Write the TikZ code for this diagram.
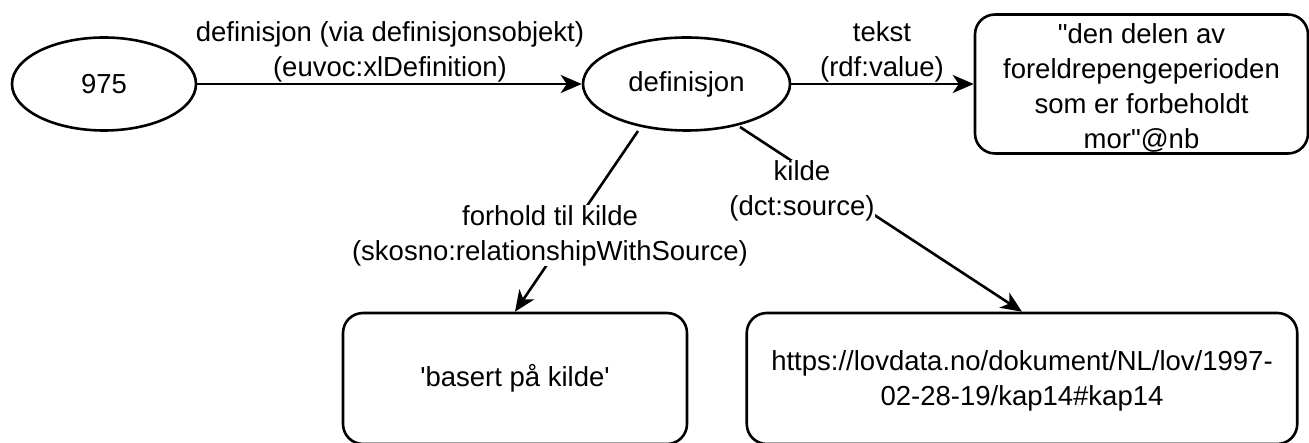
\documentclass[tikz,border=0pt]{standalone}
\usepackage{fontspec}
\newfontfamily\lsans{Liberation Sans}
\usetikzlibrary{shapes.geometric,arrows.meta,calc}
\begin{document}
\begin{tikzpicture}[x=1pt,y=-1pt,
  every node/.style={font=\lsans\fontsize{27.5}{35}\selectfont},
  ell/.style={draw, ellipse, line width=2.6pt, inner sep=0pt, minimum height=93pt},
  box/.style={draw, rectangle, rounded corners=20pt, line width=2.6pt, align=center, inner sep=0pt},
  arr/.style={line width=2.6pt, -{Stealth[length=21pt,width=18pt,inset=6pt]}},
  lab/.style={align=center, inner sep=0pt},
  labbg/.style={lab, fill=white}]
\useasboundingbox (0,0) rectangle (1309,443);
\fill[white] (0,0) rectangle (1309,443);
\node[ell, minimum width=184pt] (n975) at (104,84) {975};
\node[ell, minimum width=207pt] (def) at (686.5,84) {definisjon};
\node[box, minimum width=333pt, minimum height=139pt, text height=133pt] (txt) at (1141.5,84) {"den delen av\\foreldrepengeperioden\\som er forbeholdt\\mor"@nb};
\node[box, minimum width=344pt, minimum height=131pt] (src) at (515,378.5) {'basert på kilde'};
\node[box, minimum width=550.5pt, minimum height=131pt, text height=59pt] (url) at (1022,378.5) {https://lovdata.no/dokument/NL/lov/1997-\\02-28-19/kap14\#kap14};
\coordinate (s1) at ($(def.center)+(-48.5,47)$);
\coordinate (s2) at ($(def.center)+(53.5,43)$);
\draw[arr] (n975) -- (def);
\draw[arr] (def) -- (txt);
\draw[arr] (s1) -- (src.north);
\draw[arr] (s2) -- (url.north);
\node[lab] (l1) at (390,52) {definisjon (via definisjonsobjekt)\\(euvoc:xlDefinition)};
\node[lab] (l2) at (882,52) {tekst\\(rdf:value)};
\node[labbg] (l3) at (550,235.5) {forhold til kilde\\(skosno:relationshipWithSource)};
\node[labbg] (l4) at (802,190.5) {kilde\\(dct:source)};
\end{tikzpicture}
\end{document}
